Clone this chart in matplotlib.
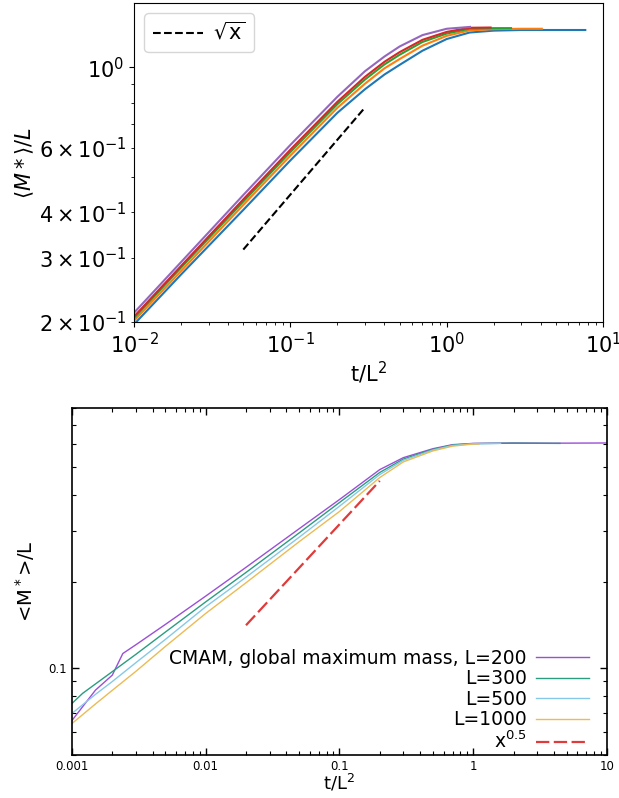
import matplotlib
matplotlib.use('Agg')
import matplotlib.pyplot as plt
from matplotlib.ticker import FuncFormatter, NullFormatter

# ---- top panel data (t/L^2, <M*>/L), five system sizes ----
top_x_purple = [0.01, 0.02, 0.05, 0.1, 0.2, 0.3, 0.4, 0.5, 0.7, 1.0, 1.41]
top_y_purple = [0.212, 0.292, 0.446, 0.612, 0.830, 0.975, 1.07, 1.14, 1.225, 1.275, 1.29]
top_x_red = [0.01, 0.02, 0.05, 0.1, 0.2, 0.3, 0.4, 0.5, 0.7, 1.0, 1.4, 1.91]
top_y_red = [0.207, 0.285, 0.434, 0.594, 0.804, 0.941, 1.035, 1.10, 1.189, 1.25, 1.283, 1.285]
top_x_green = [0.01, 0.02, 0.05, 0.1, 0.2, 0.3, 0.4, 0.5, 0.7, 1.0, 1.4, 2.0, 2.58]
top_y_green = [0.205, 0.282, 0.428, 0.585, 0.792, 0.925, 1.018, 1.082, 1.173, 1.237, 1.275, 1.28, 1.28]
top_x_orange = [0.01, 0.02, 0.05, 0.1, 0.2, 0.3, 0.4, 0.5, 0.7, 1.0, 1.4, 2.0, 3.0, 4.06]
top_y_orange = [0.2015, 0.276, 0.419, 0.572, 0.774, 0.901, 0.993, 1.053, 1.146, 1.219, 1.262, 1.272, 1.275, 1.275]
top_x_blue = [0.01, 0.02, 0.05, 0.1, 0.2, 0.3, 0.4, 0.5, 0.7, 1.0, 1.4, 2.0, 3.0, 5.0, 7.7]
top_y_blue = [0.197, 0.270, 0.406, 0.555, 0.75, 0.87, 0.955, 1.015, 1.11, 1.195, 1.245, 1.26, 1.265, 1.265, 1.265]
top_guide_x = [0.05, 0.3]
top_guide_y = [0.316, 0.775]

# ---- bottom panel data ----
bot_x_200 = [0.001, 0.0015, 0.002, 0.0024, 0.003, 0.005, 0.01, 0.02, 0.05, 0.1, 0.2, 0.3, 0.5, 0.7, 1, 2, 4, 10]
bot_y_200 = [0.0659, 0.084, 0.0946, 0.1125, 0.1206, 0.142, 0.178, 0.224, 0.305, 0.385, 0.489, 0.538, 0.578, 0.597, 0.603, 0.605, 0.604, 0.605]
bot_x_300 = [0.001, 0.0012, 0.002, 0.003, 0.005, 0.01, 0.02, 0.05, 0.1, 0.2, 0.3, 0.5, 0.7, 1, 2, 4.45]
bot_y_300 = [0.0755, 0.0818, 0.0973, 0.1117, 0.1336, 0.170, 0.215, 0.295, 0.376, 0.478, 0.532, 0.575, 0.595, 0.602, 0.604, 0.603]
bot_x_500 = [0.001, 0.0015, 0.002, 0.003, 0.005, 0.01, 0.02, 0.05, 0.1, 0.2, 0.3, 0.5, 0.7, 1, 1.6]
bot_y_500 = [0.0697, 0.0812, 0.0899, 0.1045, 0.126, 0.1635, 0.207, 0.285, 0.365, 0.470, 0.527, 0.572, 0.593, 0.601, 0.603]
bot_x_1000 = [0.001, 0.0015, 0.002, 0.003, 0.005, 0.01, 0.02, 0.05, 0.1, 0.2, 0.3, 0.5, 0.7, 1, 1.1]
bot_y_1000 = [0.0643, 0.0752, 0.0838, 0.0975, 0.1191, 0.155, 0.198, 0.275, 0.350, 0.459, 0.520, 0.568, 0.590, 0.600, 0.600]
bot_guide_x = [0.02, 0.2]
bot_guide_y = [0.141, 0.447]
bot_labels = ['CMAM, global maximum mass, L=200', 'L=300', 'L=500', 'L=1000', r'x$^{0.5}$']

fig = plt.figure(figsize=(6.19, 7.98), dpi=100)

# ---------- top panel ----------
ax1 = fig.add_axes([0.2165, 0.5965, 0.7577, 0.3997])
ax1.plot(top_x_blue, top_y_blue, color='C0', lw=1.5)
ax1.plot(top_x_orange, top_y_orange, color='C1', lw=1.5)
ax1.plot(top_x_green, top_y_green, color='C2', lw=1.5)
ax1.plot(top_x_red, top_y_red, color='C3', lw=1.5)
ax1.plot(top_x_purple, top_y_purple, color='C4', lw=1.5)
ax1.plot(top_guide_x, top_guide_y, 'k--', lw=1.5, label=r'$\sqrt{\mathrm{x}}$')
ax1.set_xscale('log')
ax1.set_yscale('log')
ax1.set_xlim(1e-2, 10)
ax1.set_ylim(0.2, 1.5)
ax1.tick_params(which='both', labelsize=15)
ax1.set_xlabel('t/L$^2$', fontsize=15, labelpad=2)
ax1.set_ylabel(r'$\langle M* \rangle / L$', fontsize=15, labelpad=2)
ax1.legend(loc='upper left', fontsize=15, handlelength=2.4, handletextpad=0.5)

# ---------- bottom panel ----------
ax2 = fig.add_axes([0.1163, 0.0539, 0.8643, 0.4348])
ax2.plot(bot_x_200, bot_y_200, color='#9b4fd6', lw=1.0, label=bot_labels[0])
ax2.plot(bot_x_300, bot_y_300, color='#2a9d80', lw=1.0, label=bot_labels[1])
ax2.plot(bot_x_500, bot_y_500, color='#86c9e6', lw=1.0, label=bot_labels[2])
ax2.plot(bot_x_1000, bot_y_1000, color='#ebbb55', lw=1.0, label=bot_labels[3])
ax2.plot(bot_guide_x, bot_guide_y, color='#e03a3a', lw=1.6, ls=(0, (6, 2)), label=bot_labels[4])
ax2.set_xscale('log')
ax2.set_yscale('log')
ax2.set_xlim(1e-3, 10)
ax2.set_ylim(0.05, 0.8)
for s in ax2.spines.values():
    s.set_linewidth(1.2)
ax2.tick_params(which='both', direction='in', top=True, right=True, labelsize=8.5)
ax2.tick_params(which='major', length=5, width=1)
ax2.tick_params(which='minor', length=3, width=0.8)
fmt = FuncFormatter(lambda v, p: f'{v:g}')
ax2.xaxis.set_major_formatter(fmt)
ax2.yaxis.set_major_formatter(fmt)
ax2.xaxis.set_minor_formatter(NullFormatter())
ax2.yaxis.set_minor_formatter(NullFormatter())
ax2.set_xlabel('t/L$^2$', fontsize=13, labelpad=0)
ax2.set_ylabel('<M$^*$>/L', fontsize=14, labelpad=8)
ax2.legend(loc='lower right', bbox_to_anchor=(0.966, 0.008), frameon=False,
           markerfirst=False, fontsize=13.5, handlelength=2.8, handletextpad=0.5,
           labelspacing=0.08, borderaxespad=0, borderpad=0)

fig.savefig('out.png', dpi=100)
